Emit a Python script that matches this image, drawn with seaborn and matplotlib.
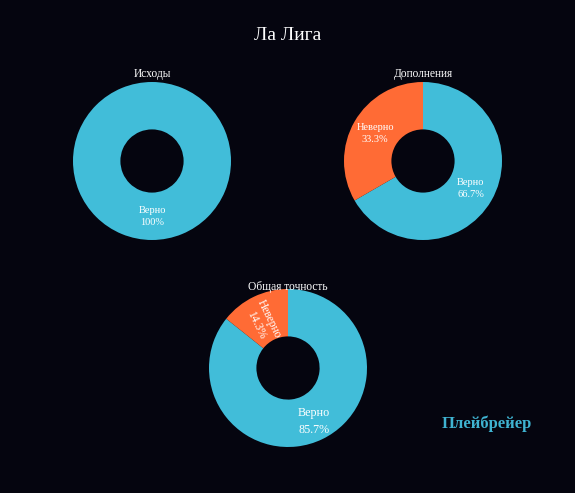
import matplotlib
matplotlib.use('Agg')
import matplotlib.pyplot as plt
import numpy as np
import seaborn as sns

sns.set_style('dark')
plt.rcParams['font.family'] = ['Liberation Serif', 'DejaVu Serif']

BG = '#05050f'
BLUE = '#41bdd9'
ORANGE = '#ff6b35'

# data
labels = ['Верно', 'Неверно']
outcomes = [1, 0]
extras = [2, 1]
overall = [6, 1]
titles = ['Исходы', 'Дополнения', 'Общая точность']

fig = plt.figure(figsize=(5.75, 4.93), dpi=100, facecolor=BG)

D = 158
W, H = D / 575, D / 493
centers = [(152, 161), (423, 161), (288, 368)]
title_y = [74, 74, 287]


def donut(ax, vals, big=False):
    ax.set_facecolor(BG)
    sel = [(l, v) for l, v in zip(labels, vals) if v > 0]
    labs = [s[0] for s in sel]
    vs = [s[1] for s in sel]
    cols = [BLUE if l == 'Верно' else ORANGE for l in labs]
    wedges, _ = ax.pie(vs, colors=cols, startangle=90, counterclock=False,
                       radius=1.0, wedgeprops=dict(width=0.6, linewidth=0))
    total = sum(vs)
    for w, l, v in zip(wedges, labs, vs):
        ang = np.deg2rad((w.theta1 + w.theta2) / 2)
        pct = v / total * 100
        txt = '100%' if pct == 100 else f'{pct:.1f}%'
        r, rot, size, ls = 0.7, 0, 7.5, 1.4
        if big:
            r, size, ls = 0.75, 8.7, 1.55
            if pct < 20:
                r, size, ls = 0.66, 8.3, 1.3
                rot = np.rad2deg(ang) - 180
                ang += np.deg2rad(3)
        x, y = r * np.cos(ang), r * np.sin(ang)
        if pct == 100:
            x, y = 0, -0.7
        ax.text(x, y, f'{l}\n{txt}', ha='center', va='center', color='white',
                fontsize=size, rotation=rot, rotation_mode='anchor', linespacing=ls)
    ax.set_xlim(-1, 1)
    ax.set_ylim(-1, 1)
    ax.set_aspect('equal')
    ax.axis('off')


for i, vals in enumerate([outcomes, extras, overall]):
    cx, cy = centers[i]
    ax = fig.add_axes([cx / 575 - W / 2, 1 - cy / 493 - H / 2, W, H])
    donut(ax, vals, big=(i == 2))
    fig.text(cx / 575, 1 - title_y[i] / 493, titles[i], ha='center', va='center',
             color='white', fontsize=8.3)

fig.text(0.5, 1 - 36 / 493, 'Ла Лига', ha='center', va='center', color='white', fontsize=14)
fig.text(487 / 575, 1 - 424 / 493, 'Плейбрейер', ha='center', va='center',
         color='#3fb3d1', fontsize=12, fontweight='bold')

fig.savefig('out.png', dpi=100, facecolor=BG)
